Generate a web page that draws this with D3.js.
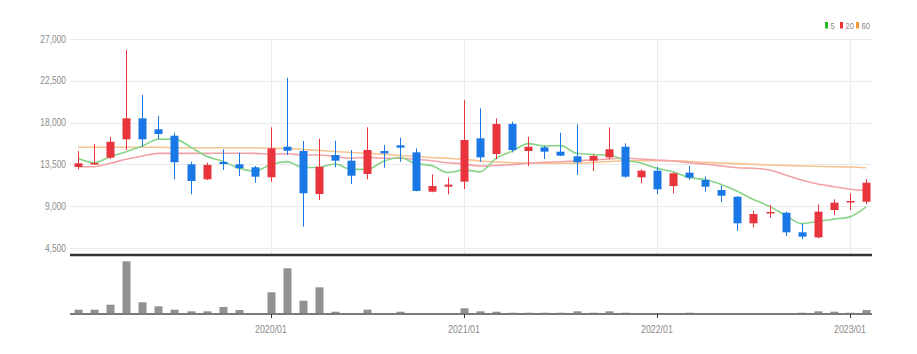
<!DOCTYPE html>
<html>
<head>
<meta charset="utf-8">
<script src="https://cdn.jsdelivr.net/npm/d3@7"></script>
<style>
  html, body { margin: 0; padding: 0; background: #fff; }
  svg { display: block; }
  text { font-family: "Liberation Sans Narrow", "Liberation Sans", Arial, sans-serif; }
</style>
</head>
<body>
<svg id="chart" width="917" height="354"></svg>
<script>
const months = [
  "2019/01","2019/02","2019/03","2019/04","2019/05","2019/06","2019/07","2019/08","2019/09","2019/10","2019/11","2019/12",
  "2020/01","2020/02","2020/03","2020/04","2020/05","2020/06","2020/07","2020/08","2020/09","2020/10","2020/11","2020/12",
  "2021/01","2021/02","2021/03","2021/04","2021/05","2021/06","2021/07","2021/08","2021/09","2021/10","2021/11","2021/12",
  "2022/01","2022/02","2022/03","2022/04","2022/05","2022/06","2022/07","2022/08","2022/09","2022/10","2022/11","2022/12",
  "2023/01","2023/02"
];
const openVals  = [13220,13500,14220,16200,18460,17280,16590,13510,11900,13760,13510,13190,
                   12110,15400,14940,10310,14510,13900,12470,14940,15560,14800,10560,11100,
                   11640,16310,14620,17850,14940,15340,14870,14370,13900,14260,15400,12110,
                   12820,11170,12610,11820,10740,10020,7160,8230,8300,6190,5640,8590,
                   9420,9480];
const highVals  = [14940,15700,16480,25820,20970,18710,16910,13790,13680,15130,14760,13330,
                   17490,22830,16020,16270,16050,15050,17490,15590,16370,15230,12430,12070,
                   20430,19540,18460,18100,16480,15480,16910,17820,14580,17490,15770,12970,
                   13250,12610,13330,12180,11210,10100,8520,9130,8410,7160,9200,9740,
                   10390,11900];
const lowVals   = [12970,13480,14080,15050,15400,16230,11900,10280,11820,12900,12250,11530,
                   11640,14510,6790,9670,13190,11390,11900,13140,13790,10600,10500,10280,
                   10850,13790,14050,14800,13330,14080,14400,12360,12790,14050,12070,11470,
                   10310,10390,11820,10560,9420,6330,6730,7760,5790,5440,5550,8050,
                   8590,9240];
const closeVals = [13620,13650,15940,18460,16200,16770,13730,11710,13440,13540,13080,12180,
                   15230,14970,10390,13250,13900,12280,15050,14690,15300,10640,11170,11320,
                   16130,14260,17850,15050,15400,14870,14440,13730,14400,15130,12180,12820,
                   10820,12540,12070,11100,10130,7160,8160,8380,6190,5720,8410,9380,
                   9560,11530];
const ma5  = [14160,13680,14330,14870,15480,16210,16220,15380,14370,13840,13100,12790,
              13490,13800,13170,13200,13550,12960,12970,13840,14250,13590,13370,12620,
              12910,12700,14150,14920,15740,15490,15520,14700,14570,14510,13970,13650,
              13070,12700,12090,11870,11330,10600,9720,8980,8000,7120,7370,7610,
              7850,8920];
const ma20 = [13250,13250,13620,14050,14400,14690,14690,14690,14690,14700,14700,14690,
              14590,14650,14510,14510,14330,14160,14260,14160,14160,14050,13900,13680,
              13540,13330,13400,13470,13620,13730,13790,13900,13970,14080,14160,14080,
              13970,13870,13680,13540,13330,13140,13080,12900,12360,11820,11390,11100,
              10820,10670];
const ma60 = [15340,15340,15340,15340,15340,15340,15300,15300,15300,15300,15300,15300,
              15230,15230,15100,15000,14890,14780,14690,14590,14460,14350,14240,14160,
              14030,13870,13760,13680,13620,13620,13620,13620,13700,13810,13900,13900,
              13900,13900,13810,13730,13650,13580,13510,13440,13380,13330,13300,13250,
              13220,13140];
const volume = [430,430,930,5270,1170,770,430,270,270,700,400,100,
                2170,4570,1330,2670,230,100,430,100,230,100,30,30,
                570,270,230,130,130,130,130,270,130,270,130,50,
                50,50,130,50,50,50,50,50,50,130,270,230,
                130,400];
const yTicks = [4500, 9000, 13500, 18000, 22500, 27000];
const xTickLabels = ["2020/01", "2021/01", "2022/01", "2023/01"];
const maNames = ["5", "20", "60"];

const UP = "#e8353d", DOWN = "#1a78e6";
const maColors = ["#88d488", "#f3a3a6", "#f6c393"];
const legendColors = ["#22bb22", "#ee3333", "#f39a33"];

const svg = d3.select("#chart");
const left = 70, right = 872;
const x = d3.scalePoint().domain(months).range([78, 866]);
const y = d3.scaleLinear().domain([4500, 27000]).range([248, 39]);
const priceBottom = 255;
const volBase = 314;
const yVol = d3.scaleLinear().domain([0, 5500]).range([volBase, volBase - 55]);
const fmt = d3.format(",");
const SX = 0.8;

// horizontal grid
svg.append("g").selectAll("line").data(yTicks).join("line")
  .attr("x1", left).attr("x2", right)
  .attr("y1", d => Math.round(y(d)) + 0.5).attr("y2", d => Math.round(y(d)) + 0.5)
  .attr("stroke", "#ebebeb").attr("stroke-width", 1);
// vertical grid
svg.append("g").selectAll("line").data(xTickLabels).join("line")
  .attr("x1", d => Math.round(x(d)) + 0.5).attr("x2", d => Math.round(x(d)) + 0.5)
  .attr("y1", y(27000)).attr("y2", priceBottom)
  .attr("stroke", "#ebebeb").attr("stroke-width", 1);

// y labels
svg.append("g").selectAll("text").data(yTicks).join("text")
  .attr("transform", d => `translate(66,${y(d) + 3.5}) scale(${SX},1)`)
  .attr("text-anchor", "end").attr("font-size", 10.5).attr("fill", "#8a8a8a")
  .text(d => fmt(d));

// MA lines
const line = arr => d3.line().x((d, i) => x(months[i])).y(d => y(d)).curve(d3.curveMonotoneX)(arr);
[ma60, ma20, ma5].forEach((arr, k) => {
  const idx = 2 - k;
  svg.append("path").attr("d", line(arr)).attr("fill", "none")
    .attr("stroke", maColors[idx]).attr("stroke-width", 1.6);
});

// candles
const bw = 8;
const candles = svg.append("g").selectAll("g").data(months).join("g");
candles.append("line")
  .attr("x1", d => Math.round(x(d)) + 0.5).attr("x2", d => Math.round(x(d)) + 0.5)
  .attr("y1", (d, i) => y(highVals[i])).attr("y2", (d, i) => y(lowVals[i]))
  .attr("stroke", (d, i) => closeVals[i] >= openVals[i] ? UP : DOWN).attr("stroke-width", 1);
candles.append("rect")
  .attr("x", d => Math.round(x(d)) + 0.5 - bw / 2)
  .attr("width", bw)
  .attr("y", (d, i) => y(Math.max(openVals[i], closeVals[i])))
  .attr("height", (d, i) => Math.max(1.5, Math.abs(y(openVals[i]) - y(closeVals[i]))))
  .attr("fill", (d, i) => closeVals[i] >= openVals[i] ? UP : DOWN);

// separator line
svg.append("line").attr("x1", left).attr("x2", right).attr("y1", priceBottom).attr("y2", priceBottom)
  .attr("stroke", "#333").attr("stroke-width", 2.5);

// volume bars
svg.append("g").selectAll("rect").data(months).join("rect")
  .attr("x", d => Math.round(x(d)) + 0.5 - bw / 2)
  .attr("width", bw)
  .attr("y", (d, i) => yVol(volume[i]))
  .attr("height", (d, i) => volBase - yVol(volume[i]))
  .attr("fill", "#929292");
svg.append("line").attr("x1", left).attr("x2", right).attr("y1", volBase).attr("y2", volBase)
  .attr("stroke", "#7a7a7a").attr("stroke-width", 2);

// x ticks
svg.append("g").selectAll("line").data(xTickLabels).join("line")
  .attr("x1", d => Math.round(x(d)) + 0.5).attr("x2", d => Math.round(x(d)) + 0.5)
  .attr("y1", volBase).attr("y2", volBase + 4)
  .attr("stroke", "#333").attr("stroke-width", 1);
svg.append("g").selectAll("text").data(xTickLabels).join("text")
  .attr("transform", d => `translate(${x(d)},333) scale(${SX},1)`)
  .attr("text-anchor", "middle").attr("font-size", 11).attr("fill", "#8a8a8a")
  .text(d => d);

// legend
const legX = [825, 840, 856];
const leg = svg.append("g").selectAll("g").data(maNames).join("g")
  .attr("transform", (d, i) => `translate(${legX[i]},22)`);
leg.append("rect").attr("width", 3).attr("height", 6.5).attr("fill", (d, i) => legendColors[i]);
leg.append("text").attr("transform", `translate(5.5,6.5) scale(${SX},1)`)
  .attr("font-size", 9.5).attr("fill", "#888").text(d => d);
</script>
</body>
</html>
